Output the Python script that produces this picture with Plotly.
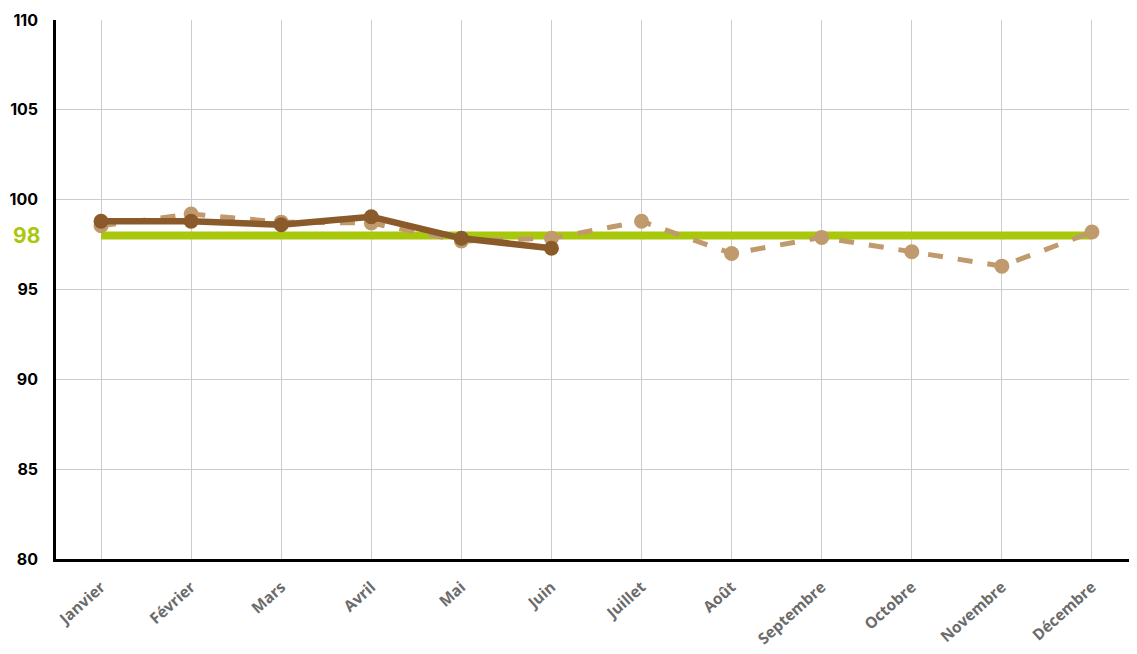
import plotly.graph_objects as go

months = ["Janvier", "Février", "Mars", "Avril", "Mai", "Juin", "Juillet",
          "Août", "Septembre", "Octobre", "Novembre", "Décembre"]
current_year = [98.8, 98.8, 98.6, 99.05, 97.85, 97.3]
previous_year = [98.55, 99.2, 98.75, 98.7, 97.7, 97.85, 98.8, 97.0, 97.9, 97.1, 96.3, 98.2]
target = [98] * 12
y_ticks = [80, 85, 90, 95, 100, 105, 110]

fig = go.Figure()
fig.add_trace(go.Scatter(x=months, y=target, mode="lines",
                         line=dict(color="#a9c80c", width=8), hoverinfo="skip"))
fig.add_trace(go.Scatter(x=months, y=previous_year, mode="lines+markers",
                         line=dict(color="#c09a6c", width=5, dash="dash"),
                         marker=dict(size=15, color="#c09a6c")))
fig.add_trace(go.Scatter(x=months[:len(current_year)], y=current_year, mode="lines+markers",
                         line=dict(color="#8b5a2b", width=6.5),
                         marker=dict(size=15, color="#8b5a2b")))

fig.add_annotation(x=0, xref="paper", y=98, yref="y", text="<b>98</b>",
                   showarrow=False, xanchor="right", xshift=-14,
                   font=dict(color="#a9c80c", size=21, family="Inter"))

fig.update_layout(
    width=1129, height=646,
    margin=dict(l=48, r=0, t=12, b=95, autoexpand=False),
    paper_bgcolor="white", plot_bgcolor="white",
    showlegend=False,
    font=dict(family="Open Sans"),
)
fig.update_xaxes(
    type="category", range=[-0.5, 11.5], automargin=False,
    showgrid=True, gridcolor="#cccccc", gridwidth=1,
    tickangle=-42,
    tickfont=dict(size=15.5, color="#6b6b6b", family="Open Sans", weight="bold"),
    showline=True, linecolor="black", linewidth=3,
    ticks="", ticklabelstandoff=10,
)
fig.update_yaxes(
    range=[80, 110], tickvals=y_ticks, automargin=False,
    showgrid=True, gridcolor="#cccccc", gridwidth=1,
    tickfont=dict(size=16, color="black", family="Inter", weight="bold"),
    showline=True, linecolor="black", linewidth=2.5,
    ticks="", ticklabelstandoff=12, zeroline=False,
)

fig.write_html("out.html")
